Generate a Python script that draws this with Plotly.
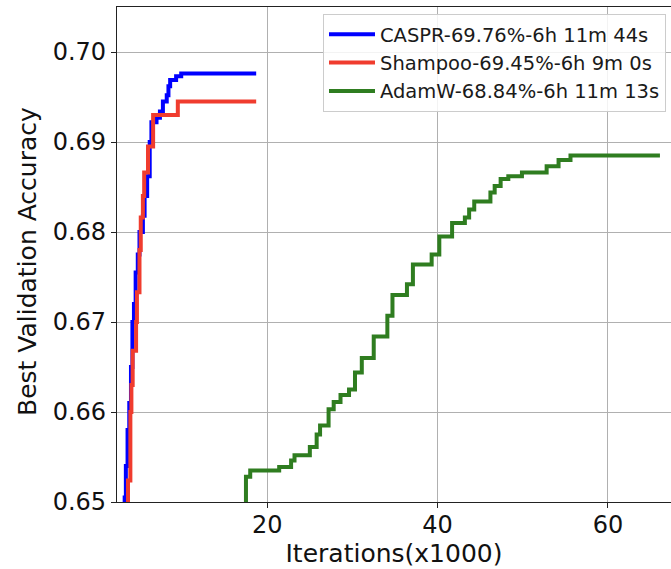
import plotly.graph_objects as go

# ---- data (Iterations in thousands, best validation accuracy) ----
caspr_x = [3.2, 3.26, 3.4, 3.6, 3.8, 4.0, 4.17, 4.35, 4.55, 4.8, 5.0, 5.4, 5.6, 5.9,
           6.2, 6.4, 7.0, 7.4, 7.75, 8.2, 8.4, 8.6, 9.3, 9.9, 18.7]
caspr_y = [0.6400, 0.6505, 0.6540, 0.6580, 0.6610, 0.6650, 0.6700, 0.6720, 0.6755, 0.6775,
           0.6800, 0.6818, 0.6840, 0.6862, 0.6900, 0.6922, 0.6927, 0.6934, 0.6945, 0.6952,
           0.6962, 0.6969, 0.6973, 0.6976, 0.6976]

shampoo_x = [3.6, 3.65, 3.93, 4.05, 4.2, 4.6, 4.7, 5.0, 5.15, 5.4, 5.55, 6.0, 6.6, 9.5, 18.7]
shampoo_y = [0.6400, 0.6524, 0.6600, 0.6630, 0.6668, 0.6700, 0.6733, 0.6780, 0.6816, 0.6840,
             0.6866, 0.6895, 0.6930, 0.6945, 0.6945]

adamw_x = [17.45, 17.5, 18.0, 21.4, 22.8, 23.2, 25.0, 25.8, 26.2, 27.2, 27.8, 28.6, 29.6,
           30.3, 31.1, 32.5, 34.1, 34.7, 36.4, 37.1, 39.3, 40.2, 41.7, 43.2, 43.7, 44.3,
           46.2, 46.7, 47.4, 48.3, 49.9, 52.8, 54.2, 55.6, 66.1]
adamw_y = [0.6400, 0.6528, 0.6535, 0.6539, 0.6546, 0.6552, 0.6561, 0.6575, 0.6585, 0.6603,
           0.6611, 0.6619, 0.6625, 0.6644, 0.6660, 0.6684, 0.6707, 0.6730, 0.6742, 0.6764,
           0.6775, 0.6795, 0.6810, 0.6816, 0.6825, 0.6834, 0.6844, 0.6851, 0.6859, 0.6862,
           0.6866, 0.6873, 0.6880, 0.6885, 0.6885]

names = ["CASPR-69.76%-6h 11m 44s", "Shampoo-69.45%-6h 9m 0s", "AdamW-68.84%-6h 11m 13s"]
colors = ["#0000ff", "#f03c2e", "#2f7d20"]

y_ticks = [0.65, 0.66, 0.67, 0.68, 0.69, 0.70]
x_ticks = [20, 40, 60]

FONT = "DejaVu Sans, Liberation Sans, sans-serif"
TXT = "#111111"

fig = go.Figure()
for xs, ys, nm, c in [(caspr_x, caspr_y, names[0], colors[0]),
                      (shampoo_x, shampoo_y, names[1], colors[1]),
                      (adamw_x, adamw_y, names[2], colors[2])]:
    fig.add_trace(go.Scatter(x=xs, y=ys, mode="lines", name=nm,
                             line=dict(color=c, width=4, shape="hv")))

fig.update_layout(
    width=671, height=569,
    margin=dict(l=117, r=0, t=7, b=67),
    paper_bgcolor="white", plot_bgcolor="white",
    font=dict(family=FONT, color="#000000"),
    showlegend=True,
    legend=dict(x=(666 - 117) / 554, y=(502 - 14) / 495, xanchor="right", yanchor="top",
                bgcolor="rgba(255,255,255,0.85)", bordercolor="#cccccc", borderwidth=1,
                font=dict(size=19.5, family=FONT, color="#1a1a1a"),
                itemwidth=46, tracegroupgap=0),
    annotations=[dict(text="Best Validation Accuracy", textangle=-90,
                      xref="paper", yref="paper",
                      x=(27 - 117) / 554, y=(502 - 262) / 495,
                      xanchor="center", yanchor="middle", showarrow=False,
                      font=dict(size=25, family=FONT, color=TXT))],
)
fig.update_xaxes(
    range=[2.36, 67.4], tickvals=x_ticks, ticktext=[str(v) for v in x_ticks],
    showgrid=True, gridcolor="#b0b0b0", gridwidth=1, zeroline=False,
    showline=True, linecolor="#222222", linewidth=1.2, mirror=True,
    ticks="outside", ticklen=5, tickcolor="#222222",
    tickfont=dict(size=24, family=FONT, color=TXT), ticklabelstandoff=-4,
    title=dict(text="Iterations(x1000)", font=dict(size=25, family=FONT, color=TXT), standoff=4),
    automargin=False,
)
fig.update_yaxes(
    range=[0.65, 0.705], tickvals=y_ticks, ticktext=[f"{v:.2f}" for v in y_ticks],
    showgrid=True, gridcolor="#b0b0b0", gridwidth=1, zeroline=False,
    showline=True, linecolor="#222222", linewidth=1.2, mirror=False,
    ticks="outside", ticklen=5, tickcolor="#222222",
    tickfont=dict(size=24, family=FONT, color=TXT),
    automargin=False,
)

fig.write_html("out.html", config={"displayModeBar": False},
               post_script="document.body.style.margin='0';document.body.style.overflow='hidden';")
